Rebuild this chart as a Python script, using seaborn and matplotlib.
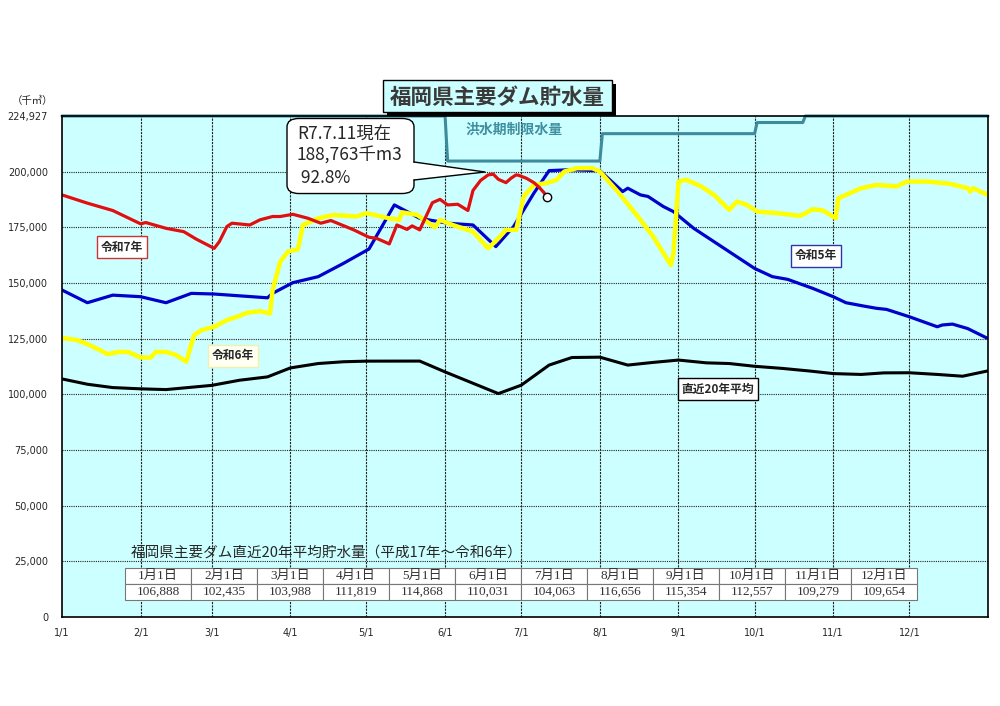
import numpy as np
import pandas as pd
import matplotlib
matplotlib.use('Agg')
import matplotlib.pyplot as plt
import seaborn as sns
from matplotlib.patches import Rectangle, FancyBboxPatch, Polygon
from matplotlib.lines import Line2D

# 日付は 1/1 = 0 とした通日
month_days = [0, 31, 59, 90, 120, 151, 181, 212, 243, 273, 304, 334]
month_labels = ['1/1', '2/1', '3/1', '4/1', '5/1', '6/1', '7/1', '8/1', '9/1', '10/1', '11/1', '12/1']

# 令和7年
days_r7 = [0, 10, 20, 31, 33, 41, 48, 53, 60, 62, 65, 67, 74, 78, 83, 86, 91, 97, 102, 106,
           115, 121, 124, 129, 132, 136, 138, 141, 146, 149, 152, 156, 160, 162, 165, 168, 170, 172, 175, 177,
           179, 180, 183, 186, 188, 190, 191]
vals_r7 = [189500, 185800, 182500, 176500, 177100, 174500, 173000, 169600, 165500, 168500,
           175300, 176800, 176000, 178300, 179800, 179800, 180800, 179000, 176800, 178000,
           173800, 170500, 170000, 167500, 176000, 174000, 175600, 173800, 186000, 187500,
           185000, 185300, 182500, 191500, 196000, 198500, 198800, 196500, 195000, 197000,
           198500, 198300, 197000, 195000, 193000, 190500, 188763]

# 令和6年
days_r6 = [0, 6, 10, 15, 18, 22, 26, 31, 35, 37, 41, 45, 49, 52, 55, 60, 65, 69, 73, 78,
           82, 83, 86, 89, 93, 95, 101, 107, 116, 120, 129, 133, 134, 140, 147, 149, 154, 162, 168, 172,
           175, 179, 182, 186, 191, 195, 198, 203, 209, 212, 219, 227, 233, 240, 241, 243, 246, 252, 257, 263,
           266, 270, 274, 282, 291, 296, 300, 305, 306, 309, 315, 321, 329, 333, 341, 350, 357, 358, 359, 365]
vals_r6 = [125300, 124300, 122500, 119800, 118000, 119000, 119000, 116500, 116500, 119000,
           119000, 117600, 114600, 126500, 128800, 130300, 133300, 134800, 136600, 137300,
           136300, 146800, 159500, 164000, 165100, 176000, 179000, 180500, 179800, 181300,
           179000, 178300, 181700, 180500, 175000, 178300, 176000, 173000, 165500, 170000,
           173800, 173800, 188800, 194000, 194800, 196300, 200000, 201500, 201500, 200000,
           191000, 179800, 170800, 158000, 163300, 195500, 196300, 193300, 189500, 182800,
           186500, 185000, 182000, 181300, 180100, 183100, 182500, 179000, 188000, 189500,
           192500, 194000, 193300, 195500, 195500, 194500, 192500, 191000, 192500, 189500]

# 令和5年
days_r5 = [0, 10, 20, 31, 41, 51, 60, 81, 83, 91, 101, 111, 121, 131, 141, 152, 162, 171, 178, 186,
           192, 200, 212, 221, 223, 228, 231, 237, 241, 249, 257, 265, 273, 280, 286, 296, 304, 309, 316, 321,
           325, 334, 345, 347, 351, 357, 365]
vals_r5 = [146800, 141100, 144500, 143800, 141100, 145300, 145000, 143300, 145300, 150100,
           152800, 158800, 165200, 185000, 179000, 176800, 176000, 166300, 175300, 190300,
           200400, 200800, 200400, 191000, 192500, 189500, 188800, 184300, 182000, 174500,
           168500, 162500, 156500, 152800, 151600, 147500, 143800, 141100, 139600, 138600,
           138100, 134800, 130300, 131100, 131500, 129500, 125000]

# 直近20年平均
days_avg = [0, 10, 20, 31, 41, 59, 70, 81, 90, 101, 111, 120, 141, 151, 172, 181, 192, 201, 212, 223,
            233, 243, 254, 263, 273, 284, 295, 304, 315, 324, 334, 345, 355, 365]
vals_avg = [106888, 104500, 103000, 102435, 102100, 103988, 106300, 107800, 111819, 113800,
            114600, 114868, 114900, 110031, 100300, 104063, 113100, 116500, 116656, 113100,
            114300, 115354, 114100, 113800, 112557, 111600, 110400, 109279, 108900, 109600,
            109654, 108900, 108100, 110500]

# 洪水期制限水量
flood_days = [0, 151, 152, 212, 213, 273, 274, 292, 293, 365]
flood_vals = [224927, 224927, 204700, 204700, 217000, 217000, 222000, 222000, 224927, 224927]

# 表
table_dates = ['1月1日', '2月1日', '3月1日', '4月1日', '5月1日', '6月1日',
               '7月1日', '8月1日', '9月1日', '10月1日', '11月1日', '12月1日']
table_vals = ['106,888', '102,435', '103,988', '111,819', '114,868', '110,031',
              '104,063', '116,656', '115,354', '112,557', '109,279', '109,654']

capacity = 224927
now_label = 'R7.7.11現在\n188,763千m3\n 92.8%'

sns.set_style('white')
plt.rcParams['font.family'] = ['Noto Sans CJK JP', 'DejaVu Sans']

W, H = 1000, 706
fig = plt.figure(figsize=(10, 7.06), dpi=100)
fx = lambda x: x / W
fy = lambda y: 1 - y / H

ax = fig.add_axes([fx(62), fy(617), fx(988) - fx(62), fy(116) - fy(617)])
ax.set_facecolor('#ccffff')

sns.lineplot(x=flood_days, y=flood_vals, ax=ax, color='#3d8b9c', linewidth=2.2)
ax.lines[-1].set_clip_on(False)
sns.lineplot(x=days_avg, y=vals_avg, ax=ax, color='black', linewidth=2.2)
sns.lineplot(x=days_r5, y=vals_r5, ax=ax, color='#0000cc', linewidth=2.3)
sns.lineplot(x=days_r6, y=vals_r6, ax=ax, color='#ffff00', linewidth=3.2)
sns.lineplot(x=days_r7, y=vals_r7, ax=ax, color='#e01010', linewidth=2.3)
ax.plot(days_r7[-1], vals_r7[-1], 'o', ms=6, mfc='white', mec='black', mew=1, zorder=5)

ax.set_xlim(0, 365)
ax.set_ylim(0, capacity)
ax.set_xticks(month_days)
ax.set_xticklabels(month_labels, fontsize=7, fontfamily='DejaVu Sans')
yt = list(range(0, 200001, 25000)) + [capacity]
ax.set_yticks(yt)
ax.set_yticklabels([f'{v:,}' for v in yt], fontsize=7, fontfamily='DejaVu Sans')
ax.tick_params(axis='y', length=0, pad=10)
ax.tick_params(axis='x', length=3, pad=5, direction='out')
for v in range(25000, 200001, 25000):
    ax.axhline(v, color='#222222', lw=0.8, ls=(0, (1, 1)), zorder=0.5)
for d in month_days[1:]:
    ax.axvline(d, color='#222222', lw=0.8, ls=(0, (2, 1)), zorder=0.5)
for s in ax.spines.values():
    s.set_color('black')
    s.set_linewidth(1.2)
ax.set_xlabel('')
ax.set_ylabel('')

fig.text(fx(12), fy(101), '（千㎥）', fontsize=7.5, va='center', ha='left')

ax.text(466 / W, fy(130), '洪水期制限水量', transform=fig.transFigure, fontsize=10,
        color='#3f8fa0', fontweight='bold', va='center', ha='left')

# タイトル
fig.patches.append(Rectangle((fx(387), fy(116)), (616 - 387) / W, (116 - 84) / H,
                             transform=fig.transFigure, fc='black', ec='none', zorder=5))
fig.patches.append(Rectangle((fx(383), fy(112)), (612 - 383) / W, (112 - 80) / H,
                             transform=fig.transFigure, fc='#ccffff', ec='black', lw=1, zorder=6))
fig.text(fx(497), fy(97), '福岡県主要ダム貯水量', fontsize=15.5, fontweight='bold',
         color='#3a3a3a', ha='center', va='center', zorder=7)

# 吹き出し
fig.patches.append(FancyBboxPatch((fx(292), fy(190)), (409 - 292) / W, (190 - 122) / H,
                                  boxstyle='round,pad=0.005,rounding_size=0.012',
                                  transform=fig.transFigure, fc='white', ec='black', lw=1, zorder=6))
fig.patches.append(Polygon([(fx(408), fy(162)), (fx(485), fy(172)), (fx(408), fy(180))],
                           closed=True, transform=fig.transFigure, fc='white', ec='none', zorder=7))
fig.lines.append(Line2D([fx(414), fx(485), fx(414)], [fy(162), fy(172), fy(180)],
                        transform=fig.transFigure, color='black', lw=1, zorder=8))
fig.text(fx(297), fy(156), now_label, fontsize=12.5, ha='left', va='center',
         linespacing=1.3, zorder=9)

# 系列ラベル
def tag(x, y, s, ec, fc='white'):
    fig.text(fx(x), fy(y), s, fontsize=8.5, fontweight='bold', ha='center', va='center',
             bbox=dict(boxstyle='square,pad=0.35', fc=fc, ec=ec, lw=1), zorder=9)

tag(122, 247, '令和7年', '#cc3333')
tag(233, 356, '令和6年', '#f0f0b0', '#fffff2')
tag(816, 256, '令和5年', '#3333aa')
tag(718, 389, '直近20年平均', 'black')

# 平均貯水量の表
fig.text(fx(131), fy(553), '福岡県主要ダム直近20年平均貯水量（平成17年～令和6年）',
         fontsize=10.5, ha='left', va='center')
tax = fig.add_axes([fx(125), fy(600), (917 - 125) / W, (600 - 568) / H])
tax.axis('off')
tbl = tax.table(cellText=[table_dates, table_vals], cellLoc='center', bbox=[0, 0, 1, 1])
tbl.auto_set_font_size(False)
for (r, c), cell in tbl.get_celld().items():
    cell.set_edgecolor('#777777')
    cell.set_linewidth(0.8)
    cell.set_facecolor('white')
    cell.get_text().set_fontsize(9.5)
    cell.get_text().set_fontfamily(['Liberation Serif', 'Noto Sans CJK JP'])
    cell.get_text().set_color('#333333')

fig.savefig('out.png', dpi=100, facecolor='white')
